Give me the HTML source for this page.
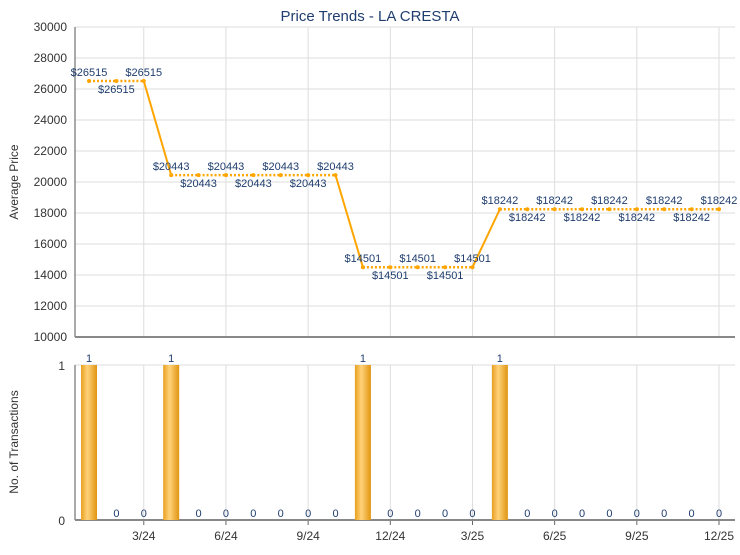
<!DOCTYPE html>
<html><head><meta charset="utf-8"><style>
body{margin:0;background:#fff;font-family:"Liberation Sans",sans-serif}
svg text{font-family:"Liberation Sans",sans-serif}
</style></head><body>
<svg id="c" width="740" height="550">
<text x="370" y="21" text-anchor="middle" font-size="15" fill="#1f3d6e">Price Trends - LA CRESTA</text>
<text transform="translate(18,182) rotate(-90)" text-anchor="middle" font-size="12" fill="#333">Average Price</text>
<text transform="translate(18,442) rotate(-90)" text-anchor="middle" font-size="12" fill="#333">No. of Transactions</text>
<g id="g"></g>
</svg>
<script>
const months=["1/24","2/24","3/24","4/24","5/24","6/24","7/24","8/24","9/24","10/24","11/24","12/24","1/25","2/25","3/25","4/25","5/25","6/25","7/25","8/25","9/25","10/25","11/25","12/25"];
const prices=[26515,26515,26515,20443,20443,20443,20443,20443,20443,20443,14501,14501,14501,14501,14501,18242,18242,18242,18242,18242,18242,18242,18242,18242];
const counts=[1,0,0,1,0,0,0,0,0,0,1,0,0,0,0,1,0,0,0,0,0,0,0,0];
const priceTicks=[10000,12000,14000,16000,18000,20000,22000,24000,26000,28000,30000];
const xTickLabels=["3/24","6/24","9/24","12/24","3/25","6/25","9/25","12/25"];

const L=75,R=735,T1=27,B1=337,T2=365,B2=520;
const ns="http://www.w3.org/2000/svg",g=document.getElementById('g');
function X(i){return 89+i*(719-89)/(months.length-1);}
function Y(v){return B1-(v-10000)/(30000-10000)*(B1-T1);}
function Y2(v){return B2-v*(B2-T2);}
function mk(t,a,name,txt){const e=document.createElementNS(ns,t);for(const k in a)e.setAttribute(k,a[k]);


if(txt!==undefined)e.textContent=txt;g.appendChild(e);return e;}
const defs=document.createElementNS(ns,'defs');defs.innerHTML='<linearGradient id="bg" x1="0" x2="1"><stop offset="0" stop-color="#e8a020"/><stop offset="0.4" stop-color="#ffd27a"/><stop offset="1" stop-color="#e09510"/></linearGradient>';g.appendChild(defs);
priceTicks.forEach(v=>{mk('line',{x1:L,x2:R,y1:Y(v),y2:Y(v),stroke:'#ddd'},'price-gridline');
mk('text',{x:L-8,y:Y(v)+4,'text-anchor':'end','font-size':12,fill:'#333'},'price-tick-label',String(v));});
mk('line',{x1:L,x2:R,y1:T2,y2:T2,stroke:'#ddd'},'count-gridline');
mk('text',{x:L-10,y:T2+5,'text-anchor':'end','font-size':12,fill:'#333'},'count-tick-label','1');
mk('text',{x:L-10,y:B2+5,'text-anchor':'end','font-size':12,fill:'#333'},'count-tick-label','0');
xTickLabels.forEach(lbl=>{const i=months.indexOf(lbl);const x=X(i);
mk('line',{x1:x,x2:x,y1:T1,y2:B1,stroke:'#ddd'},'vertical-gridline');
mk('line',{x1:x,x2:x,y1:T2,y2:B2,stroke:'#ddd'},'vertical-gridline');
mk('line',{x1:x,x2:x,y1:B2,y2:B2+5,stroke:'#666'},'x-tick');
mk('text',{x:x,y:B2+20,'text-anchor':'middle','font-size':12,fill:'#333'},'x-tick-label',lbl);});
mk('line',{x1:L,x2:L,y1:T1,y2:B1,stroke:'#555'},'price-y-axis');
mk('line',{x1:L,x2:R,y1:B1,y2:B1,stroke:'#888','stroke-width':2},'price-x-axis');
mk('line',{x1:L,x2:L,y1:T2,y2:B2,stroke:'#555'},'count-y-axis');
mk('line',{x1:L,x2:R,y1:B2,y2:B2,stroke:'#888','stroke-width':2},'count-x-axis');
for(let i=1;i<prices.length;i++){const eq=prices[i]===prices[i-1];
mk('line',{x1:X(i-1),y1:Y(prices[i-1]),x2:X(i),y2:Y(prices[i]),stroke:'#ffa500','stroke-width':eq?2.5:2,'stroke-dasharray':eq?'2,2':'none'},'price-line-segment');}
let run=0;
prices.forEach((v,i)=>{run=(i>0&&prices[i]===prices[i-1])?run+1:0;
mk('circle',{cx:X(i),cy:Y(v),r:2,fill:'#ffa500'},'price-point');
mk('text',{x:X(i),y:run%2===0?Y(v)-5:Y(v)+12,'text-anchor':'middle','font-size':11,fill:'#1f3d6e'},'price-value-label','$'+v);});
counts.forEach((v,i)=>{const x=X(i);
if(v>0)mk('rect',{x:x-8,y:Y2(v),width:16,height:B2-Y2(v),fill:'url(#bg)'},'transaction-bar');
mk('text',{x:x,y:v>0?Y2(v)-3:B2-3,'text-anchor':'middle','font-size':11,fill:'#1f3d6e'},'transaction-value-label',String(v));});
</script>
</body></html>
